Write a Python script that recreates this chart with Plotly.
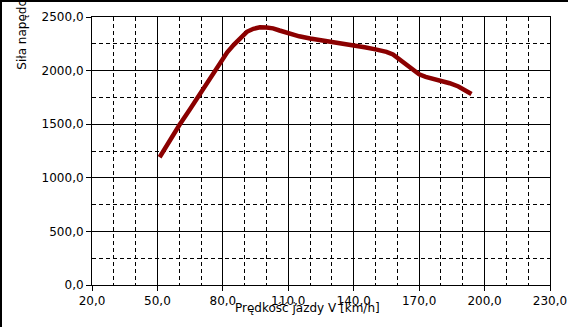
import plotly.graph_objects as go

speed_kmh = [51, 55, 60, 65, 69, 73, 76, 79, 82, 85, 88, 91, 94, 97, 100, 103, 106, 110, 115,
             120, 125, 130, 135, 140, 145, 150, 155, 158, 161, 164, 167, 170, 173, 176, 180,
             184, 188, 191, 194]
force_n = [1192, 1328, 1490, 1642, 1765, 1896, 1995, 2083, 2170, 2240, 2307, 2362, 2390, 2404,
           2402, 2394, 2374, 2348, 2320, 2300, 2285, 2268, 2250, 2235, 2218, 2198, 2175, 2150,
           2105, 2060, 2010, 1965, 1942, 1928, 1908, 1882, 1852, 1818, 1782]

x_title = "Prędkość jazdy V [km/h]"
y_title = "Siła napędowa F [N]"

L, R, T, B = 92, 18, 17, 42
W, H = 568, 327
pw, ph = W - L - R, H - T - B

def px_x(p):
    return (p - L) / pw

def px_y(p):
    return (H - B - p) / ph

fig = go.Figure()
fig.add_trace(go.Scatter(
    x=speed_kmh, y=force_n, mode="lines",
    line=dict(color="#8b0000", width=4.5, shape="linear"),
    showlegend=False, hoverinfo="skip",
))

axis_common = dict(
    showline=True, linecolor="black", linewidth=1, mirror=True,
    showgrid=True, gridcolor="black", gridwidth=1, automargin=False,
    zeroline=False, ticks="outside", ticklen=5, tickcolor="black", tickwidth=1,
    tickformat=".1f",
    tickfont=dict(family="DejaVu Sans", size=12, color="black"),
)

fig.update_xaxes(
    range=[20, 230], dtick=30, tick0=20,
    minor=dict(dtick=10, tick0=20, showgrid=True, gridcolor="black", gridwidth=1,
               griddash="4px,3px", ticks=""),
    **axis_common,
)
fig.update_yaxes(
    range=[0, 2500], dtick=500, tick0=0,
    minor=dict(dtick=250, tick0=0, showgrid=True, gridcolor="black", gridwidth=1,
               griddash="4px,3px", ticks=""),
    **axis_common,
)

fig.add_annotation(
    text=x_title, xref="paper", yref="paper",
    x=px_x(307.5), y=px_y(308), xanchor="center", yanchor="middle",
    showarrow=False, font=dict(family="DejaVu Sans", size=12, color="black"),
)
fig.add_annotation(
    text=y_title, xref="paper", yref="paper", textangle=-90,
    x=px_x(22.5), y=px_y(71.7), xanchor="center", yanchor="bottom",
    showarrow=False, font=dict(family="DejaVu Sans", size=12, color="black"),
)

# outer frame (top and left edges visible)
fig.add_shape(type="line", xref="paper", yref="paper",
              x0=px_x(0), x1=px_x(W), y0=px_y(1), y1=px_y(1),
              line=dict(color="black", width=2))
fig.add_shape(type="line", xref="paper", yref="paper",
              x0=px_x(1), x1=px_x(1), y0=px_y(0), y1=px_y(H),
              line=dict(color="black", width=2))

fig.update_layout(
    template="none",
    width=W, height=H, autosize=False,
    margin=dict(l=L, r=R, t=T, b=B, pad=0, autoexpand=False),
    paper_bgcolor="white", plot_bgcolor="white",
    separators=", ",
    font=dict(family="DejaVu Sans", size=12, color="black"),
)

fig.write_html("out.html",
               config={"displayModeBar": False, "staticPlot": True},
               post_script="document.body.style.margin='0';document.body.style.overflow='hidden';")
